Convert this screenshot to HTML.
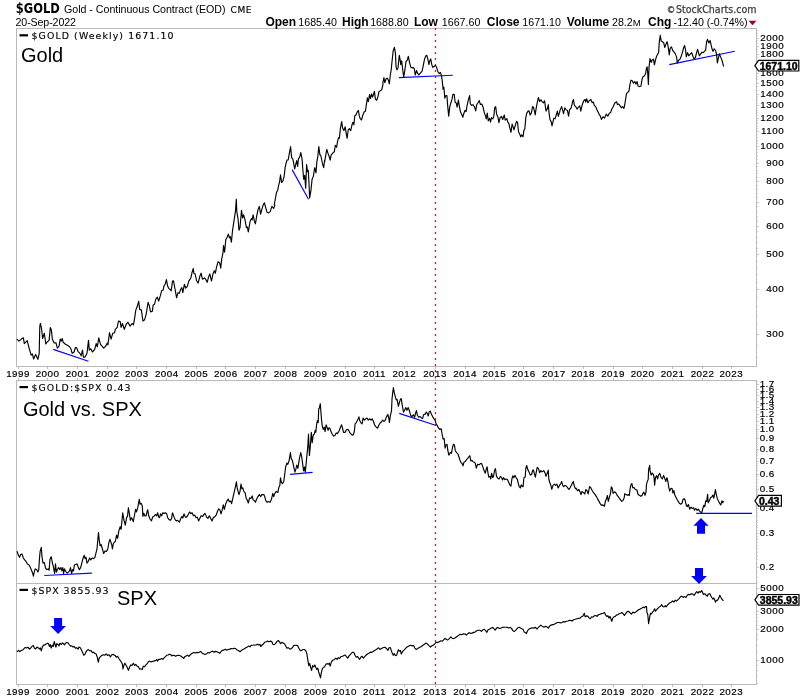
<!DOCTYPE html>
<html><head><meta charset="utf-8"><title>$GOLD</title>
<style>
html,body{margin:0;padding:0;background:#fff}
svg{display:block;will-change:transform}
.a{font-family:"Liberation Sans",Arial,sans-serif}
.v{font-family:"DejaVu Sans",Verdana,sans-serif}
.s{fill:none;stroke:#000;stroke-width:1.15;stroke-linejoin:round;stroke-linecap:round}
.bl{stroke:#0000ff;stroke-width:1.15;fill:none}
</style></head><body>
<svg width="800" height="700" viewBox="0 0 800 700">
<rect width="800" height="700" fill="#fff"/>
<g fill="none" stroke="#bababa" stroke-width="1" shape-rendering="crispEdges">
<rect x="16.5" y="28.5" width="740.0" height="338.0"/>
<rect x="16.5" y="380.5" width="740.0" height="304.0"/>
<line x1="16.5" x2="756.5" y1="583.5" y2="583.5"/>
</g>
<g stroke="#bababa" stroke-width="1" shape-rendering="crispEdges">
<line x1="18.5" x2="18.5" y1="366.5" y2="369.0"/><line x1="18.5" x2="18.5" y1="378.0" y2="380.5"/><line x1="47.5" x2="47.5" y1="366.5" y2="369.0"/><line x1="47.5" x2="47.5" y1="378.0" y2="380.5"/><line x1="77.5" x2="77.5" y1="366.5" y2="369.0"/><line x1="77.5" x2="77.5" y1="378.0" y2="380.5"/><line x1="107.5" x2="107.5" y1="366.5" y2="369.0"/><line x1="107.5" x2="107.5" y1="378.0" y2="380.5"/><line x1="136.5" x2="136.5" y1="366.5" y2="369.0"/><line x1="136.5" x2="136.5" y1="378.0" y2="380.5"/><line x1="166.5" x2="166.5" y1="366.5" y2="369.0"/><line x1="166.5" x2="166.5" y1="378.0" y2="380.5"/><line x1="196.5" x2="196.5" y1="366.5" y2="369.0"/><line x1="196.5" x2="196.5" y1="378.0" y2="380.5"/><line x1="225.5" x2="225.5" y1="366.5" y2="369.0"/><line x1="225.5" x2="225.5" y1="378.0" y2="380.5"/><line x1="255.5" x2="255.5" y1="366.5" y2="369.0"/><line x1="255.5" x2="255.5" y1="378.0" y2="380.5"/><line x1="285.5" x2="285.5" y1="366.5" y2="369.0"/><line x1="285.5" x2="285.5" y1="378.0" y2="380.5"/><line x1="315.5" x2="315.5" y1="366.5" y2="369.0"/><line x1="315.5" x2="315.5" y1="378.0" y2="380.5"/><line x1="345.5" x2="345.5" y1="366.5" y2="369.0"/><line x1="345.5" x2="345.5" y1="378.0" y2="380.5"/><line x1="374.5" x2="374.5" y1="366.5" y2="369.0"/><line x1="374.5" x2="374.5" y1="378.0" y2="380.5"/><line x1="404.5" x2="404.5" y1="366.5" y2="369.0"/><line x1="404.5" x2="404.5" y1="378.0" y2="380.5"/><line x1="435.5" x2="435.5" y1="366.5" y2="369.0"/><line x1="435.5" x2="435.5" y1="378.0" y2="380.5"/><line x1="465.5" x2="465.5" y1="366.5" y2="369.0"/><line x1="465.5" x2="465.5" y1="378.0" y2="380.5"/><line x1="494.5" x2="494.5" y1="366.5" y2="369.0"/><line x1="494.5" x2="494.5" y1="378.0" y2="380.5"/><line x1="523.5" x2="523.5" y1="366.5" y2="369.0"/><line x1="523.5" x2="523.5" y1="378.0" y2="380.5"/><line x1="553.5" x2="553.5" y1="366.5" y2="369.0"/><line x1="553.5" x2="553.5" y1="378.0" y2="380.5"/><line x1="583.5" x2="583.5" y1="366.5" y2="369.0"/><line x1="583.5" x2="583.5" y1="378.0" y2="380.5"/><line x1="613.5" x2="613.5" y1="366.5" y2="369.0"/><line x1="613.5" x2="613.5" y1="378.0" y2="380.5"/><line x1="642.5" x2="642.5" y1="366.5" y2="369.0"/><line x1="642.5" x2="642.5" y1="378.0" y2="380.5"/><line x1="672.5" x2="672.5" y1="366.5" y2="369.0"/><line x1="672.5" x2="672.5" y1="378.0" y2="380.5"/><line x1="702.5" x2="702.5" y1="366.5" y2="369.0"/><line x1="702.5" x2="702.5" y1="378.0" y2="380.5"/><line x1="731.5" x2="731.5" y1="366.5" y2="369.0"/><line x1="731.5" x2="731.5" y1="378.0" y2="380.5"/>
</g>
<g class="a" font-size="9.8" letter-spacing="0.45" text-anchor="middle" fill="#000" stroke="#000" stroke-width="0.2">
<text x="18" y="377">1999</text><text x="47.5" y="377">2000</text><text x="77.5" y="377">2001</text><text x="107.5" y="377">2002</text><text x="136.75" y="377">2003</text><text x="166.75" y="377">2004</text><text x="196.25" y="377">2005</text><text x="225.75" y="377">2006</text><text x="255.5" y="377">2007</text><text x="285.5" y="377">2008</text><text x="315.5" y="377">2009</text><text x="345" y="377">2010</text><text x="374.5" y="377">2011</text><text x="404.25" y="377">2012</text><text x="435" y="377">2013</text><text x="465" y="377">2014</text><text x="494.25" y="377">2015</text><text x="523.75" y="377">2016</text><text x="553.75" y="377">2017</text><text x="583" y="377">2018</text><text x="613" y="377">2019</text><text x="642.5" y="377">2020</text><text x="672.5" y="377">2021</text><text x="702.5" y="377">2022</text><text x="731.25" y="377">2023</text>
</g>
<g stroke="#bababa" stroke-width="1" shape-rendering="crispEdges">
<line x1="18.5" x2="18.5" y1="684.5" y2="687.0"/><line x1="47.5" x2="47.5" y1="684.5" y2="687.0"/><line x1="77.5" x2="77.5" y1="684.5" y2="687.0"/><line x1="107.5" x2="107.5" y1="684.5" y2="687.0"/><line x1="136.5" x2="136.5" y1="684.5" y2="687.0"/><line x1="166.5" x2="166.5" y1="684.5" y2="687.0"/><line x1="196.5" x2="196.5" y1="684.5" y2="687.0"/><line x1="225.5" x2="225.5" y1="684.5" y2="687.0"/><line x1="255.5" x2="255.5" y1="684.5" y2="687.0"/><line x1="285.5" x2="285.5" y1="684.5" y2="687.0"/><line x1="315.5" x2="315.5" y1="684.5" y2="687.0"/><line x1="345.5" x2="345.5" y1="684.5" y2="687.0"/><line x1="374.5" x2="374.5" y1="684.5" y2="687.0"/><line x1="404.5" x2="404.5" y1="684.5" y2="687.0"/><line x1="435.5" x2="435.5" y1="684.5" y2="687.0"/><line x1="465.5" x2="465.5" y1="684.5" y2="687.0"/><line x1="494.5" x2="494.5" y1="684.5" y2="687.0"/><line x1="523.5" x2="523.5" y1="684.5" y2="687.0"/><line x1="553.5" x2="553.5" y1="684.5" y2="687.0"/><line x1="583.5" x2="583.5" y1="684.5" y2="687.0"/><line x1="613.5" x2="613.5" y1="684.5" y2="687.0"/><line x1="642.5" x2="642.5" y1="684.5" y2="687.0"/><line x1="672.5" x2="672.5" y1="684.5" y2="687.0"/><line x1="702.5" x2="702.5" y1="684.5" y2="687.0"/><line x1="731.5" x2="731.5" y1="684.5" y2="687.0"/>
</g>
<g class="a" font-size="9.8" letter-spacing="0.45" text-anchor="middle" fill="#000" stroke="#000" stroke-width="0.2">
<text x="18" y="694.5">1999</text><text x="47.5" y="694.5">2000</text><text x="77.5" y="694.5">2001</text><text x="107.5" y="694.5">2002</text><text x="136.75" y="694.5">2003</text><text x="166.75" y="694.5">2004</text><text x="196.25" y="694.5">2005</text><text x="225.75" y="694.5">2006</text><text x="255.5" y="694.5">2007</text><text x="285.5" y="694.5">2008</text><text x="315.5" y="694.5">2009</text><text x="345" y="694.5">2010</text><text x="374.5" y="694.5">2011</text><text x="404.25" y="694.5">2012</text><text x="435" y="694.5">2013</text><text x="465" y="694.5">2014</text><text x="494.25" y="694.5">2015</text><text x="523.75" y="694.5">2016</text><text x="553.75" y="694.5">2017</text><text x="583" y="694.5">2018</text><text x="613" y="694.5">2019</text><text x="642.5" y="694.5">2020</text><text x="672.5" y="694.5">2021</text><text x="702.5" y="694.5">2022</text><text x="731.25" y="694.5">2023</text>
</g>
<g stroke="#d2d2d2" stroke-width="1" shape-rendering="crispEdges">
<line x1="757.0" x2="758.0" y1="357.5" y2="357.5"/><line x1="757.0" x2="758.0" y1="345.5" y2="345.5"/><line x1="757.0" x2="758.0" y1="334.5" y2="334.5"/><line x1="757.0" x2="758.0" y1="324.5" y2="324.5"/><line x1="757.0" x2="758.0" y1="315.5" y2="315.5"/><line x1="757.0" x2="758.0" y1="306.5" y2="306.5"/><line x1="757.0" x2="758.0" y1="297.5" y2="297.5"/><line x1="757.0" x2="758.0" y1="289.5" y2="289.5"/><line x1="757.0" x2="758.0" y1="282.5" y2="282.5"/><line x1="757.0" x2="758.0" y1="274.5" y2="274.5"/><line x1="757.0" x2="758.0" y1="267.5" y2="267.5"/><line x1="757.0" x2="758.0" y1="261.5" y2="261.5"/><line x1="757.0" x2="758.0" y1="254.5" y2="254.5"/><line x1="757.0" x2="758.0" y1="248.5" y2="248.5"/><line x1="757.0" x2="758.0" y1="242.5" y2="242.5"/><line x1="757.0" x2="758.0" y1="237.5" y2="237.5"/><line x1="757.0" x2="758.0" y1="231.5" y2="231.5"/><line x1="757.0" x2="758.0" y1="226.5" y2="226.5"/><line x1="757.0" x2="758.0" y1="221.5" y2="221.5"/><line x1="757.0" x2="758.0" y1="216.5" y2="216.5"/><line x1="757.0" x2="758.0" y1="211.5" y2="211.5"/><line x1="757.0" x2="758.0" y1="206.5" y2="206.5"/><line x1="757.0" x2="758.0" y1="202.5" y2="202.5"/><line x1="757.0" x2="758.0" y1="197.5" y2="197.5"/><line x1="757.0" x2="758.0" y1="193.5" y2="193.5"/><line x1="757.0" x2="758.0" y1="189.5" y2="189.5"/><line x1="757.0" x2="758.0" y1="185.5" y2="185.5"/><line x1="757.0" x2="758.0" y1="181.5" y2="181.5"/><line x1="757.0" x2="758.0" y1="177.5" y2="177.5"/><line x1="757.0" x2="758.0" y1="173.5" y2="173.5"/><line x1="757.0" x2="758.0" y1="170.5" y2="170.5"/><line x1="757.0" x2="758.0" y1="166.5" y2="166.5"/><line x1="757.0" x2="758.0" y1="163.5" y2="163.5"/><line x1="757.0" x2="758.0" y1="159.5" y2="159.5"/><line x1="757.0" x2="758.0" y1="156.5" y2="156.5"/><line x1="757.0" x2="758.0" y1="152.5" y2="152.5"/><line x1="757.0" x2="758.0" y1="149.5" y2="149.5"/><line x1="757.0" x2="758.0" y1="146.5" y2="146.5"/><line x1="757.0" x2="758.0" y1="143.5" y2="143.5"/><line x1="757.0" x2="758.0" y1="140.5" y2="140.5"/><line x1="757.0" x2="758.0" y1="137.5" y2="137.5"/><line x1="757.0" x2="758.0" y1="134.5" y2="134.5"/><line x1="757.0" x2="758.0" y1="131.5" y2="131.5"/><line x1="757.0" x2="758.0" y1="128.5" y2="128.5"/><line x1="757.0" x2="758.0" y1="126.5" y2="126.5"/><line x1="757.0" x2="758.0" y1="123.5" y2="123.5"/><line x1="757.0" x2="758.0" y1="120.5" y2="120.5"/><line x1="757.0" x2="758.0" y1="118.5" y2="118.5"/><line x1="757.0" x2="758.0" y1="115.5" y2="115.5"/><line x1="757.0" x2="758.0" y1="112.5" y2="112.5"/><line x1="757.0" x2="758.0" y1="110.5" y2="110.5"/><line x1="757.0" x2="758.0" y1="108.5" y2="108.5"/><line x1="757.0" x2="758.0" y1="105.5" y2="105.5"/><line x1="757.0" x2="758.0" y1="103.5" y2="103.5"/><line x1="757.0" x2="758.0" y1="100.5" y2="100.5"/><line x1="757.0" x2="758.0" y1="98.5" y2="98.5"/><line x1="757.0" x2="758.0" y1="96.5" y2="96.5"/><line x1="757.0" x2="758.0" y1="94.5" y2="94.5"/><line x1="757.0" x2="758.0" y1="94.5" y2="94.5"/><line x1="757.0" x2="758.0" y1="90.5" y2="90.5"/><line x1="757.0" x2="758.0" y1="86.5" y2="86.5"/><line x1="757.0" x2="758.0" y1="83.5" y2="83.5"/><line x1="757.0" x2="758.0" y1="79.5" y2="79.5"/><line x1="757.0" x2="758.0" y1="76.5" y2="76.5"/><line x1="757.0" x2="758.0" y1="73.5" y2="73.5"/><line x1="757.0" x2="758.0" y1="69.5" y2="69.5"/><line x1="757.0" x2="758.0" y1="66.5" y2="66.5"/><line x1="757.0" x2="758.0" y1="63.5" y2="63.5"/><line x1="757.0" x2="758.0" y1="60.5" y2="60.5"/><line x1="757.0" x2="758.0" y1="57.5" y2="57.5"/><line x1="757.0" x2="758.0" y1="54.5" y2="54.5"/><line x1="757.0" x2="758.0" y1="51.5" y2="51.5"/><line x1="757.0" x2="758.0" y1="49.5" y2="49.5"/><line x1="757.0" x2="758.0" y1="46.5" y2="46.5"/><line x1="757.0" x2="758.0" y1="43.5" y2="43.5"/><line x1="757.0" x2="758.0" y1="40.5" y2="40.5"/><line x1="757.0" x2="758.0" y1="38.5" y2="38.5"/><line x1="757.0" x2="758.0" y1="35.5" y2="35.5"/><line x1="757.0" x2="758.0" y1="33.5" y2="33.5"/><line x1="757.0" x2="758.0" y1="30.5" y2="30.5"/>
</g>
<g stroke="#c6c6c6" stroke-width="1" shape-rendering="crispEdges">
<line x1="757.0" x2="759.0" y1="38.5" y2="38.5"/><line x1="757.0" x2="759.0" y1="46.5" y2="46.5"/><line x1="757.0" x2="759.0" y1="54.5" y2="54.5"/><line x1="757.0" x2="759.0" y1="63.5" y2="63.5"/><line x1="757.0" x2="759.0" y1="73.5" y2="73.5"/><line x1="757.0" x2="759.0" y1="83.5" y2="83.5"/><line x1="757.0" x2="759.0" y1="94.5" y2="94.5"/><line x1="757.0" x2="759.0" y1="105.5" y2="105.5"/><line x1="757.0" x2="759.0" y1="118.5" y2="118.5"/><line x1="757.0" x2="759.0" y1="131.5" y2="131.5"/><line x1="757.0" x2="759.0" y1="146.5" y2="146.5"/><line x1="757.0" x2="759.0" y1="163.5" y2="163.5"/><line x1="757.0" x2="759.0" y1="181.5" y2="181.5"/><line x1="757.0" x2="759.0" y1="202.5" y2="202.5"/><line x1="757.0" x2="759.0" y1="226.5" y2="226.5"/><line x1="757.0" x2="759.0" y1="254.5" y2="254.5"/><line x1="757.0" x2="759.0" y1="289.5" y2="289.5"/><line x1="757.0" x2="759.0" y1="334.5" y2="334.5"/>
</g>
<g class="a" font-size="9.8" letter-spacing="0.5" text-anchor="end" fill="#000" stroke="#000" stroke-width="0.2">
<text x="784.1" y="41">2000</text><text x="784.1" y="49">1900</text><text x="784.1" y="57">1800</text><text x="784.1" y="66">1700</text><text x="784.1" y="76">1600</text><text x="784.1" y="86">1500</text><text x="784.1" y="97">1400</text><text x="784.1" y="108">1300</text><text x="784.1" y="121">1200</text><text x="784.1" y="134">1100</text><text x="784.1" y="149">1000</text><text x="784.1" y="166">900</text><text x="784.1" y="184">800</text><text x="784.1" y="205">700</text><text x="784.1" y="229">600</text><text x="784.1" y="257">500</text><text x="784.1" y="292">400</text><text x="784.1" y="337">300</text>
</g>
<g stroke="#d2d2d2" stroke-width="1" shape-rendering="crispEdges">
<line x1="757.0" x2="758.0" y1="582.5" y2="582.5"/><line x1="757.0" x2="758.0" y1="577.5" y2="577.5"/><line x1="757.0" x2="758.0" y1="572.5" y2="572.5"/><line x1="757.0" x2="758.0" y1="567.5" y2="567.5"/><line x1="757.0" x2="758.0" y1="563.5" y2="563.5"/><line x1="757.0" x2="758.0" y1="559.5" y2="559.5"/><line x1="757.0" x2="758.0" y1="556.5" y2="556.5"/><line x1="757.0" x2="758.0" y1="552.5" y2="552.5"/><line x1="757.0" x2="758.0" y1="548.5" y2="548.5"/><line x1="757.0" x2="758.0" y1="545.5" y2="545.5"/><line x1="757.0" x2="758.0" y1="542.5" y2="542.5"/><line x1="757.0" x2="758.0" y1="539.5" y2="539.5"/><line x1="757.0" x2="758.0" y1="536.5" y2="536.5"/><line x1="757.0" x2="758.0" y1="533.5" y2="533.5"/><line x1="757.0" x2="758.0" y1="530.5" y2="530.5"/><line x1="757.0" x2="758.0" y1="527.5" y2="527.5"/><line x1="757.0" x2="758.0" y1="525.5" y2="525.5"/><line x1="757.0" x2="758.0" y1="522.5" y2="522.5"/><line x1="757.0" x2="758.0" y1="520.5" y2="520.5"/><line x1="757.0" x2="758.0" y1="517.5" y2="517.5"/><line x1="757.0" x2="758.0" y1="515.5" y2="515.5"/><line x1="757.0" x2="758.0" y1="512.5" y2="512.5"/><line x1="757.0" x2="758.0" y1="510.5" y2="510.5"/><line x1="757.0" x2="758.0" y1="508.5" y2="508.5"/><line x1="757.0" x2="758.0" y1="506.5" y2="506.5"/><line x1="757.0" x2="758.0" y1="504.5" y2="504.5"/><line x1="757.0" x2="758.0" y1="502.5" y2="502.5"/><line x1="757.0" x2="758.0" y1="500.5" y2="500.5"/><line x1="757.0" x2="758.0" y1="498.5" y2="498.5"/><line x1="757.0" x2="758.0" y1="496.5" y2="496.5"/><line x1="757.0" x2="758.0" y1="494.5" y2="494.5"/><line x1="757.0" x2="758.0" y1="492.5" y2="492.5"/><line x1="757.0" x2="758.0" y1="491.5" y2="491.5"/><line x1="757.0" x2="758.0" y1="489.5" y2="489.5"/><line x1="757.0" x2="758.0" y1="489.5" y2="489.5"/><line x1="757.0" x2="758.0" y1="486.5" y2="486.5"/><line x1="757.0" x2="758.0" y1="482.5" y2="482.5"/><line x1="757.0" x2="758.0" y1="479.5" y2="479.5"/><line x1="757.0" x2="758.0" y1="476.5" y2="476.5"/><line x1="757.0" x2="758.0" y1="474.5" y2="474.5"/><line x1="757.0" x2="758.0" y1="470.5" y2="470.5"/><line x1="757.0" x2="758.0" y1="468.5" y2="468.5"/><line x1="757.0" x2="758.0" y1="465.5" y2="465.5"/><line x1="757.0" x2="758.0" y1="463.5" y2="463.5"/><line x1="757.0" x2="758.0" y1="461.5" y2="461.5"/><line x1="757.0" x2="758.0" y1="458.5" y2="458.5"/><line x1="757.0" x2="758.0" y1="455.5" y2="455.5"/><line x1="757.0" x2="758.0" y1="453.5" y2="453.5"/><line x1="757.0" x2="758.0" y1="451.5" y2="451.5"/><line x1="757.0" x2="758.0" y1="449.5" y2="449.5"/><line x1="757.0" x2="758.0" y1="446.5" y2="446.5"/><line x1="757.0" x2="758.0" y1="444.5" y2="444.5"/><line x1="757.0" x2="758.0" y1="442.5" y2="442.5"/><line x1="757.0" x2="758.0" y1="440.5" y2="440.5"/><line x1="757.0" x2="758.0" y1="438.5" y2="438.5"/><line x1="757.0" x2="758.0" y1="437.5" y2="437.5"/><line x1="757.0" x2="758.0" y1="435.5" y2="435.5"/><line x1="757.0" x2="758.0" y1="433.5" y2="433.5"/><line x1="757.0" x2="758.0" y1="431.5" y2="431.5"/><line x1="757.0" x2="758.0" y1="429.5" y2="429.5"/><line x1="757.0" x2="758.0" y1="429.5" y2="429.5"/><line x1="757.0" x2="758.0" y1="425.5" y2="425.5"/><line x1="757.0" x2="758.0" y1="421.5" y2="421.5"/><line x1="757.0" x2="758.0" y1="417.5" y2="417.5"/><line x1="757.0" x2="758.0" y1="414.5" y2="414.5"/><line x1="757.0" x2="758.0" y1="410.5" y2="410.5"/><line x1="757.0" x2="758.0" y1="407.5" y2="407.5"/><line x1="757.0" x2="758.0" y1="404.5" y2="404.5"/><line x1="757.0" x2="758.0" y1="401.5" y2="401.5"/><line x1="757.0" x2="758.0" y1="398.5" y2="398.5"/><line x1="757.0" x2="758.0" y1="395.5" y2="395.5"/><line x1="757.0" x2="758.0" y1="392.5" y2="392.5"/><line x1="757.0" x2="758.0" y1="389.5" y2="389.5"/><line x1="757.0" x2="758.0" y1="386.5" y2="386.5"/><line x1="757.0" x2="758.0" y1="384.5" y2="384.5"/><line x1="757.0" x2="758.0" y1="381.5" y2="381.5"/>
</g>
<g stroke="#c6c6c6" stroke-width="1" shape-rendering="crispEdges">
<line x1="757.0" x2="759.0" y1="384.5" y2="384.5"/><line x1="757.0" x2="759.0" y1="389.5" y2="389.5"/><line x1="757.0" x2="759.0" y1="395.5" y2="395.5"/><line x1="757.0" x2="759.0" y1="401.5" y2="401.5"/><line x1="757.0" x2="759.0" y1="407.5" y2="407.5"/><line x1="757.0" x2="759.0" y1="414.5" y2="414.5"/><line x1="757.0" x2="759.0" y1="421.5" y2="421.5"/><line x1="757.0" x2="759.0" y1="429.5" y2="429.5"/><line x1="757.0" x2="759.0" y1="438.5" y2="438.5"/><line x1="757.0" x2="759.0" y1="449.5" y2="449.5"/><line x1="757.0" x2="759.0" y1="461.5" y2="461.5"/><line x1="757.0" x2="759.0" y1="474.5" y2="474.5"/><line x1="757.0" x2="759.0" y1="489.5" y2="489.5"/><line x1="757.0" x2="759.0" y1="508.5" y2="508.5"/><line x1="757.0" x2="759.0" y1="533.5" y2="533.5"/><line x1="757.0" x2="759.0" y1="567.5" y2="567.5"/>
</g>
<g class="a" font-size="9.8" letter-spacing="0.5" text-anchor="end" fill="#000" stroke="#000" stroke-width="0.2">
<text x="774.8" y="387">1.7</text><text x="774.8" y="392">1.6</text><text x="774.8" y="398">1.5</text><text x="774.8" y="404">1.4</text><text x="774.8" y="410">1.3</text><text x="774.8" y="417">1.2</text><text x="774.8" y="424">1.1</text><text x="774.8" y="432">1.0</text><text x="774.8" y="441">0.9</text><text x="774.8" y="452">0.8</text><text x="774.8" y="464">0.7</text><text x="774.8" y="477">0.6</text><text x="774.8" y="492">0.5</text><text x="774.8" y="511">0.4</text><text x="774.8" y="536">0.3</text><text x="774.8" y="570">0.2</text>
</g>
<g stroke="#d2d2d2" stroke-width="1" shape-rendering="crispEdges">
<line x1="757.0" x2="758.0" y1="683.5" y2="683.5"/><line x1="757.0" x2="758.0" y1="676.5" y2="676.5"/><line x1="757.0" x2="758.0" y1="670.5" y2="670.5"/><line x1="757.0" x2="758.0" y1="665.5" y2="665.5"/><line x1="757.0" x2="758.0" y1="660.5" y2="660.5"/><line x1="757.0" x2="758.0" y1="660.5" y2="660.5"/><line x1="757.0" x2="758.0" y1="652.5" y2="652.5"/><line x1="757.0" x2="758.0" y1="645.5" y2="645.5"/><line x1="757.0" x2="758.0" y1="639.5" y2="639.5"/><line x1="757.0" x2="758.0" y1="634.5" y2="634.5"/><line x1="757.0" x2="758.0" y1="629.5" y2="629.5"/><line x1="757.0" x2="758.0" y1="625.5" y2="625.5"/><line x1="757.0" x2="758.0" y1="621.5" y2="621.5"/><line x1="757.0" x2="758.0" y1="617.5" y2="617.5"/><line x1="757.0" x2="758.0" y1="614.5" y2="614.5"/><line x1="757.0" x2="758.0" y1="611.5" y2="611.5"/><line x1="757.0" x2="758.0" y1="604.5" y2="604.5"/><line x1="757.0" x2="758.0" y1="598.5" y2="598.5"/><line x1="757.0" x2="758.0" y1="593.5" y2="593.5"/><line x1="757.0" x2="758.0" y1="588.5" y2="588.5"/>
</g>
<g stroke="#c6c6c6" stroke-width="1" shape-rendering="crispEdges">
<line x1="757.0" x2="759.0" y1="588.5" y2="588.5"/><line x1="757.0" x2="759.0" y1="611.5" y2="611.5"/><line x1="757.0" x2="759.0" y1="629.5" y2="629.5"/><line x1="757.0" x2="759.0" y1="660.5" y2="660.5"/>
</g>
<g class="a" font-size="9.8" letter-spacing="0.5" text-anchor="end" fill="#000" stroke="#000" stroke-width="0.2">
<text x="784.1" y="591">5000</text><text x="784.1" y="614">3000</text><text x="784.1" y="632">2000</text><text x="784.1" y="663">1000</text>
</g>
<line x1="435.5" x2="435.5" y1="28" y2="684.5" stroke="#ff0000" stroke-width="1.15" stroke-dasharray="2 4" />
<line class="bl" x1="53.2" y1="349.4" x2="88.5" y2="361.2"/>
<line class="bl" x1="292.1" y1="169.6" x2="308.5" y2="199.2"/>
<line class="bl" x1="398.9" y1="77.6" x2="452.9" y2="75.2"/>
<line class="bl" x1="669.3" y1="64.6" x2="734.9" y2="51.3"/>
<line class="bl" x1="44.3" y1="575.5" x2="91.9" y2="573.1"/>
<line class="bl" x1="290.1" y1="474.4" x2="312.6" y2="472.4"/>
<line class="bl" x1="399.2" y1="413.4" x2="435.4" y2="425.2"/>
<line class="bl" x1="696.2" y1="513.4" x2="752" y2="513.4"/>
<polyline class="s" points="17.2,339.4 18.9,341.1 21.4,339.1 23.4,337.8 24.3,343.6 27.2,340.7 29.1,348.1 31.1,355.2 32.4,353.9 33.6,359.0 35.6,354.6 37.9,359.3 39.2,353.3 39.8,326.3 40.4,323.4 41.6,328.8 42.6,338.5 44.3,333.3 45.8,344.0 47.4,341.7 49.1,340.4 50.3,327.6 51.4,330.1 52.3,339.1 54.2,343.0 55.9,342.7 57.4,348.1 59.1,346.2 60.2,339.1 61.3,341.1 62.2,338.5 63.2,342.3 65.1,344.0 67.7,345.6 69.6,346.8 70.9,348.8 72.2,353.3 74.1,352.0 75.4,347.5 76.7,347.9 78.0,351.3 79.9,353.3 81.2,355.8 82.5,350.1 83.4,357.1 85.1,357.1 87.0,353.3 88.5,340.4 89.3,350.1 90.8,348.8 92.4,352.0 94.7,349.4 96.2,343.6 97.3,346.8 98.8,337.8 100.5,344.3 103.7,348.1 105.6,346.2 107.3,343.0 107.9,344.9 109.5,332.7 111.1,339.1 112.7,333.3 114.6,332.7 115.3,329.3 117.2,327.4 118.5,321.0 120.2,321.6 121.1,327.4 122.4,323.5 124.3,329.3 126.2,324.2 127.9,322.3 130.1,326.1 132.0,323.5 133.5,324.8 134.8,317.1 135.8,310.1 137.1,306.8 138.7,301.4 139.7,309.4 141.4,310.1 142.9,321.0 144.6,319.7 146.1,314.6 148.1,302.3 149.3,305.6 150.6,312.0 152.3,311.3 153.2,304.9 154.5,304.3 155.8,299.1 157.4,297.2 158.7,301.1 160.3,295.9 161.6,290.8 163.1,290.1 164.1,285.6 165.4,283.7 166.4,279.6 167.7,286.3 169.0,288.8 170.3,289.5 171.2,290.8 172.5,281.1 173.5,280.9 175.1,289.5 176.6,297.8 178.0,292.7 179.3,293.3 180.6,289.5 181.9,287.6 182.8,292.7 184.4,284.3 185.7,288.2 187.3,286.3 188.8,281.1 190.9,277.9 192.1,272.1 193.3,268.5 193.9,273.4 195.2,274.1 196.5,280.5 198.2,283.1 199.9,276.0 201.1,273.2 202.4,279.2 204.6,277.9 205.9,279.7 207.2,282.3 208.5,277.1 209.8,273.9 211.5,281.0 213.0,273.9 214.3,270.7 215.3,273.3 216.6,266.8 218.1,261.7 219.7,263.0 220.7,268.1 221.7,259.1 223.0,252.7 223.5,245.6 224.6,252.1 225.8,239.8 227.1,237.3 228.4,234.1 229.4,237.9 230.3,236.6 231.4,242.2 232.5,230.8 234.2,219.3 235.5,210.9 236.3,199.2 236.8,211.6 238.1,219.3 239.0,230.2 240.0,227.6 241.5,210.3 242.6,218.0 243.6,214.8 244.9,219.3 246.4,227.6 247.4,227.0 248.3,231.9 250.0,221.9 251.3,218.6 252.2,219.9 253.1,214.8 254.4,221.2 255.4,223.8 256.7,216.1 258.0,209.6 259.3,206.4 260.6,214.1 261.8,209.6 263.1,205.1 264.4,202.8 265.7,207.7 267.0,212.2 268.5,212.9 270.2,211.6 271.9,206.4 273.7,208.4 274.9,205.1 274.2,205.0 275.4,198.5 276.4,192.8 277.7,190.2 278.7,185.1 279.6,181.8 280.5,174.8 281.6,182.5 282.8,181.2 284.1,176.7 285.2,167.1 286.1,163.2 287.0,160.0 288.2,160.0 289.3,153.6 290.6,146.5 291.6,157.4 292.9,159.3 293.8,163.8 294.7,169.0 295.7,164.5 296.7,160.6 297.6,166.4 298.5,158.7 299.6,157.4 300.8,152.5 302.1,159.3 302.8,169.0 303.7,179.3 304.7,175.4 305.7,188.3 306.6,164.5 307.5,171.6 308.3,170.3 309.2,187.0 309.6,197.9 310.9,190.8 312.1,179.3 313.4,176.1 314.7,167.7 316.0,172.8 316.9,161.3 317.8,156.8 318.8,146.5 319.9,154.8 320.8,155.5 321.7,160.0 322.7,164.5 323.7,167.7 324.6,160.0 324.6,162.1 325.9,154.4 326.8,149.3 327.9,153.1 329.1,156.3 330.2,160.2 331.1,155.1 332.7,153.1 334.3,151.8 335.3,145.4 336.6,147.3 337.5,141.6 338.5,137.7 339.4,138.3 340.4,128.1 341.7,121.6 342.6,128.1 343.9,130.6 345.2,126.8 346.1,132.6 347.1,138.3 348.2,130.0 349.4,128.7 350.7,130.6 352.0,124.8 352.9,122.3 353.9,124.8 354.8,115.8 356.1,114.8 357.2,112.0 358.4,110.4 359.3,115.8 360.2,118.7 361.5,120.0 362.8,115.2 364.1,112.0 365.4,111.3 366.4,104.3 367.4,97.9 368.3,101.7 369.6,94.6 370.5,98.5 371.6,94.0 372.6,97.2 373.5,94.3 374.4,91.4 375.4,99.1 376.7,100.2 378.0,96.6 379.0,91.4 380.3,90.8 381.6,90.1 382.9,85.0 382.9,82.7 383.9,77.6 384.8,82.7 386.1,78.8 387.4,78.2 388.6,80.8 389.3,84.0 390.3,75.0 391.2,69.8 392.1,60.8 393.1,51.2 394.4,47.4 395.4,53.1 396.1,67.3 397.0,69.8 398.0,67.9 399.3,55.4 400.2,60.2 400.8,64.7 401.7,60.8 402.8,70.5 403.7,76.9 404.7,71.1 406.0,61.5 407.3,60.2 408.3,56.3 409.6,62.8 410.9,67.3 412.2,67.9 413.1,67.3 414.3,68.6 415.2,75.0 416.5,70.5 417.8,73.7 418.8,75.0 420.4,73.1 422.1,71.1 423.3,65.3 424.6,58.9 425.9,55.7 426.8,55.4 427.8,58.9 428.9,64.7 429.8,60.8 430.7,58.9 431.7,64.1 432.7,67.3 434.0,66.6 435.3,65.3 436.6,67.3 437.9,71.8 439.2,73.7 440.4,72.4 441.3,75.0 442.2,80.1 443.0,89.1 443.9,87.2 444.8,98.1 445.8,95.6 446.9,95.6 447.8,107.1 448.7,116.1 449.7,107.1 450.7,103.3 452.0,99.4 452.9,94.3 454.2,94.3 455.1,102.0 456.4,103.3 457.1,107.1 458.4,100.1 459.3,105.8 460.6,112.3 461.9,114.8 462.8,117.4 463.8,113.5 465.1,110.3 466.1,111.6 467.0,105.8 468.3,100.1 469.6,95.6 470.3,103.7 471.6,105.3 472.9,104.7 474.4,106.6 475.7,110.9 476.7,104.7 478.0,102.8 479.3,100.6 480.3,104.4 481.9,104.1 483.1,107.3 484.4,113.1 485.4,115.6 486.3,118.8 487.2,113.1 488.3,120.8 489.6,118.2 490.5,122.1 491.5,117.6 492.8,118.8 493.7,116.9 494.7,107.9 495.7,106.6 496.6,114.3 497.9,116.9 498.9,122.7 500.1,117.6 501.4,116.3 502.7,119.5 504.3,115.0 505.2,120.1 506.9,118.6 507.8,122.1 508.8,123.3 510.1,129.1 511.0,132.3 512.1,124.0 513.0,126.6 514.0,129.8 515.3,125.3 516.6,121.4 517.6,122.7 518.5,131.7 519.8,134.3 520.7,136.8 521.7,134.9 523.0,136.8 523.9,130.4 524.9,128.5 525.8,117.6 526.8,113.1 528.1,111.1 529.0,110.9 530.1,115.0 531.3,113.1 532.6,106.6 533.5,107.3 534.6,111.8 535.2,115.0 536.1,108.6 537.1,103.4 538.4,97.6 539.7,101.5 541.0,99.8 542.3,101.9 543.5,102.8 544.6,100.8 545.5,107.3 546.1,111.1 547.4,108.6 548.3,104.7 549.1,113.7 550.0,119.5 551.3,122.1 552.0,125.9 552.8,122.7 553.8,118.2 555.1,118.8 556.4,114.3 557.4,111.1 558.3,116.3 559.6,112.4 560.0,110.4 561.6,106.6 562.9,111.1 563.5,113.6 564.8,107.8 566.1,109.8 567.4,110.4 568.6,116.2 569.5,109.8 571.2,107.8 572.5,102.1 573.4,99.5 574.4,105.3 575.7,106.6 577.0,109.1 578.5,107.2 579.8,105.9 580.8,111.1 582.1,105.3 583.7,100.8 585.0,99.5 585.7,102.1 586.6,98.8 587.9,102.7 589.2,100.8 590.9,99.5 592.2,102.7 593.4,102.1 594.3,105.3 595.6,106.6 597.3,110.4 598.8,113.6 600.4,116.2 601.4,119.4 603.0,116.8 604.6,118.1 606.3,114.0 607.8,116.2 609.1,113.6 610.7,112.3 611.7,109.1 613.0,107.2 614.3,104.0 615.3,102.4 616.6,101.8 617.5,104.6 618.8,104.0 620.1,105.9 621.3,107.8 622.6,106.6 623.9,108.5 624.6,105.3 625.6,99.5 626.5,93.7 627.8,92.4 629.0,90.9 629.9,84.7 631.0,80.2 632.3,80.8 633.5,83.2 634.8,81.5 635.9,84.1 637.1,81.5 638.0,86.0 639.3,86.6 641.0,86.0 641.9,80.2 642.8,77.0 644.5,75.7 645.8,73.1 646.2,69.3 647.1,66.8 647.7,72.6 648.4,84.4 649.0,67.4 650.0,58.7 651.3,62.3 652.2,60.0 653.5,59.1 654.4,64.8 655.4,60.3 656.5,56.5 657.7,54.3 658.6,52.6 659.3,41.7 660.3,35.3 661.2,41.1 662.5,41.7 663.8,43.0 664.7,47.5 665.7,44.9 667.0,41.7 668.0,45.6 669.3,54.8 670.2,48.1 671.5,46.9 672.8,50.7 674.1,52.0 675.3,53.9 676.6,57.1 677.3,62.9 678.6,60.3 680.1,59.1 681.4,55.8 682.7,51.3 683.7,47.5 684.6,45.6 685.6,50.1 686.3,56.9 687.6,52.6 688.8,55.8 690.4,53.9 691.7,52.6 693.0,56.5 694.0,58.7 695.3,57.8 696.6,52.6 697.6,49.4 698.5,52.6 699.4,55.8 700.7,53.9 702.0,52.2 703.2,52.6 704.5,51.3 705.6,50.1 706.6,41.7 707.5,39.4 708.8,43.0 710.1,40.4 711.0,44.3 712.0,48.8 713.0,51.3 714.3,48.8 715.6,50.7 716.5,53.9 717.4,62.9 718.4,57.8 719.4,53.9 720.7,57.1 722.0,60.3 722.9,63.6 723.5,66.1"/>
<polyline class="s" points="17.2,551.6 18.2,554.8 19.5,557.3 20.8,554.4 22.1,554.1 23.4,558.0 24.6,559.9 25.9,561.2 27.2,563.8 29.1,565.1 30.4,567.6 31.7,570.8 32.7,573.4 33.4,576.2 34.3,571.5 35.3,568.9 36.6,569.6 37.9,572.1 38.8,569.6 39.4,559.3 40.1,551.6 41.3,547.4 42.0,556.7 43.0,563.1 44.3,562.5 45.6,568.3 46.9,569.6 48.2,568.9 49.1,570.2 50.0,559.3 51.2,556.7 52.3,562.5 53.3,566.3 54.6,573.4 55.5,563.8 56.4,572.1 57.4,569.6 58.7,567.6 59.7,569.6 61.0,567.6 61.9,570.8 62.8,567.6 63.6,573.4 64.5,568.9 65.8,571.5 67.1,573.1 68.3,572.1 69.6,570.8 70.5,567.6 71.6,573.4 72.6,569.6 73.5,570.8 74.4,565.1 75.7,564.4 77.0,563.8 78.2,567.0 79.3,569.6 80.6,567.6 81.8,563.1 83.1,558.0 84.2,555.4 85.1,558.6 86.0,557.3 87.0,563.1 88.3,561.2 89.6,558.0 90.8,559.9 92.1,558.0 93.7,558.6 94.9,557.3 96.0,552.8 97.0,549.0 97.9,538.7 98.5,532.5 99.2,540.0 100.1,545.8 101.1,544.5 102.4,549.0 103.7,553.5 105.0,550.9 106.5,551.6 107.8,549.0 108.8,543.2 109.9,539.3 110.8,541.9 111.7,544.5 112.4,549.0 113.3,543.8 114.6,541.9 115.3,541.5 116.6,535.1 117.6,538.3 118.9,530.6 120.2,526.7 121.1,529.3 122.0,520.3 122.7,512.8 124.0,520.3 125.3,525.2 126.6,517.7 127.5,516.4 128.4,507.7 129.4,513.8 130.4,520.3 131.7,517.7 133.3,521.6 134.6,514.5 135.6,509.3 136.5,511.9 137.8,507.4 138.7,502.3 139.3,499.4 140.0,504.2 141.2,503.3 142.3,506.1 142.9,516.4 143.8,513.2 144.8,515.8 146.1,515.8 147.0,511.9 147.7,509.7 148.7,515.8 150.0,519.0 151.5,520.9 152.6,517.1 153.8,516.4 155.4,514.5 156.7,515.8 157.7,512.8 158.7,517.1 159.6,517.7 160.5,513.8 161.6,515.8 162.8,512.8 164.1,513.6 165.4,512.8 166.7,513.8 167.7,517.7 169.0,519.6 170.6,520.3 171.6,518.3 172.5,512.8 173.8,516.4 175.1,519.6 176.3,520.9 177.6,520.3 179.3,522.2 180.6,519.0 181.9,516.4 182.8,518.0 184.0,513.8 185.3,517.1 186.6,517.1 187.9,515.1 189.6,511.9 190.9,513.6 192.1,512.8 193.4,515.8 194.7,515.1 196.0,517.7 197.3,517.1 198.6,520.9 199.9,518.3 201.1,515.8 202.7,516.4 204.6,513.6 205.3,513.9 206.6,517.1 207.9,518.4 209.4,515.8 210.7,518.4 212.0,521.0 213.3,517.8 214.9,516.5 216.2,515.2 217.5,511.3 218.8,508.8 220.1,510.4 221.0,513.9 222.0,510.7 223.3,504.9 224.3,509.4 225.6,504.3 226.9,501.1 228.2,499.1 229.4,501.7 230.7,501.1 231.6,503.6 232.9,497.8 234.2,492.1 235.5,486.3 236.4,481.8 237.2,488.2 238.1,491.4 239.0,494.6 240.0,491.4 241.0,484.0 241.9,488.8 242.8,487.8 243.8,491.4 245.1,492.7 246.2,498.5 247.4,500.4 248.3,503.0 249.6,497.8 250.9,498.5 252.2,495.9 253.1,499.8 254.4,500.4 255.4,502.3 256.7,499.1 258.0,496.6 259.3,494.6 260.8,496.6 261.8,494.6 263.8,494.6 264.7,496.6 265.7,500.4 267.0,502.3 268.5,501.4 270.2,502.3 271.5,499.1 272.8,493.3 273.7,496.6 274.9,493.3 276.2,491.4 277.9,492.4 278.8,487.6 279.8,485.6 280.5,477.9 281.4,482.4 282.4,483.7 283.7,481.8 284.7,474.7 285.6,467.0 286.9,463.1 287.8,464.4 289.1,460.6 290.4,452.6 291.2,458.6 292.1,459.9 293.0,463.1 294.0,468.3 295.0,472.1 295.9,468.9 296.8,465.1 297.9,468.3 298.9,461.8 299.8,456.7 300.7,452.6 301.7,456.7 302.7,464.4 303.6,470.8 304.5,467.0 305.3,472.1 306.2,463.1 306.9,455.4 307.9,445.1 308.5,434.2 309.4,455.4 310.3,446.4 311.3,432.3 312.2,442.6 313.3,434.8 314.3,434.2 315.2,430.3 315.8,432.3 316.7,423.9 317.4,420.7 318.2,422.6 318.7,409.1 319.4,407.9 320.3,403.7 321.0,413.0 321.6,420.7 322.5,427.1 323.3,429.4 324.2,427.1 325.1,431.6 326.1,424.8 327.2,427.8 328.1,430.3 329.0,427.8 330.0,428.4 331.0,431.6 332.3,434.2 333.6,436.1 334.9,435.5 336.2,432.9 337.4,433.6 339.0,431.0 340.3,427.8 341.6,424.8 342.6,428.4 343.5,432.3 345.2,432.3 346.4,429.7 348.0,429.4 349.0,431.0 349.9,432.9 351.2,434.2 352.1,435.1 353.4,434.6 354.4,431.0 355.1,423.9 356.3,422.6 357.6,420.1 358.9,416.9 359.8,420.7 360.8,422.6 362.1,423.9 363.1,418.1 364.4,420.1 365.7,418.8 367.0,418.1 368.3,420.1 369.6,418.8 371.1,420.1 372.1,418.8 373.4,421.3 374.7,425.2 376.3,427.1 377.5,428.2 378.8,425.2 380.1,423.0 381.4,422.0 382.7,420.1 384.0,421.3 385.0,420.7 385.3,419.8 386.6,416.6 387.9,414.4 388.9,418.6 389.4,422.4 390.4,415.3 391.5,410.8 392.0,399.3 392.7,392.9 393.4,387.5 394.3,392.9 395.3,396.7 396.2,399.9 397.1,399.3 398.4,406.3 399.4,402.5 400.4,399.3 401.3,398.6 402.2,405.1 403.5,412.1 404.8,409.8 405.8,407.6 406.9,410.2 408.2,407.6 409.4,410.8 410.7,415.3 412.0,416.6 413.3,414.7 414.6,417.3 415.5,413.4 416.4,410.6 417.4,415.3 418.7,417.3 420.2,416.6 421.5,417.9 422.6,418.6 423.6,414.7 425.1,414.1 426.4,412.1 427.4,413.7 428.3,416.0 429.2,411.9 430.3,411.1 431.3,414.1 432.6,416.6 433.9,418.6 435.2,420.5 436.1,423.7 437.3,425.6 438.6,428.2 439.9,429.5 441.2,428.8 442.1,434.0 443.1,439.1 444.2,438.5 445.1,448.1 446.0,444.9 447.0,444.3 448.0,451.3 448.9,455.2 450.2,452.6 451.5,453.3 452.5,447.5 453.4,444.3 454.4,444.9 455.3,450.7 456.6,452.6 457.9,453.9 458.8,456.5 459.8,459.7 460.9,462.3 462.1,463.5 463.0,465.9 463.9,462.3 465.2,461.6 466.5,459.7 467.8,458.4 469.1,456.5 469.9,455.8 470.8,461.0 472.0,460.3 473.3,462.0 474.6,462.3 475.3,463.6 476.3,468.1 477.6,464.2 479.1,464.8 480.4,463.6 481.7,463.6 483.0,467.4 484.3,471.3 485.3,473.2 486.2,469.3 487.1,466.8 487.9,472.6 488.8,477.1 490.1,476.4 490.7,479.0 491.6,473.2 492.6,477.7 493.5,476.4 494.6,470.0 495.5,468.7 496.5,476.4 497.8,478.3 499.1,479.0 500.3,476.4 501.6,477.4 502.5,480.0 503.6,477.7 504.8,479.6 506.1,479.0 507.4,479.6 508.7,482.2 510.0,485.4 510.9,486.1 511.9,479.0 512.8,475.8 513.8,477.7 514.9,475.4 516.2,477.7 517.4,479.6 518.3,483.5 519.2,486.7 520.3,488.0 521.2,484.8 522.2,486.4 523.1,486.7 523.9,477.7 525.2,477.1 525.8,468.7 526.7,465.5 527.7,469.3 529.0,471.9 530.3,475.1 531.6,474.5 532.5,470.6 533.4,470.0 534.4,473.8 535.4,477.1 536.3,471.9 537.2,467.4 538.5,468.7 539.6,472.6 540.8,470.6 542.1,471.9 543.7,470.6 544.9,472.6 546.0,476.4 547.0,473.8 548.3,470.2 548.8,479.0 549.8,482.8 550.9,485.4 551.8,489.3 553.0,485.4 554.3,484.1 555.6,485.4 556.9,484.1 558.2,488.0 559.5,485.4 560.8,483.5 561.7,481.6 562.7,485.4 563.7,486.7 565.0,485.4 566.6,486.3 567.9,488.2 568.9,489.5 570.2,487.6 571.5,485.0 572.4,483.1 573.3,481.4 574.0,485.0 575.3,488.6 576.2,488.2 577.5,490.8 578.8,489.5 580.1,492.1 581.0,494.6 582.0,491.4 583.3,492.4 584.8,494.0 585.8,489.5 587.1,490.8 588.2,494.0 589.1,488.8 589.7,486.5 591.0,488.2 592.3,490.8 593.6,492.7 595.1,494.6 596.4,496.6 597.7,499.1 599.0,501.4 600.2,503.6 601.5,505.3 602.8,504.9 604.5,506.2 605.4,501.1 606.4,499.1 607.4,495.5 608.3,501.4 609.6,496.6 610.5,493.3 611.3,486.9 612.2,488.2 613.1,493.3 614.1,492.1 615.4,492.1 616.7,494.6 618.0,496.3 619.3,498.1 620.6,499.8 621.8,501.4 623.1,500.4 624.2,497.8 624.7,493.7 626.0,494.6 627.2,495.3 628.5,494.6 629.3,495.5 630.2,488.2 631.1,484.3 631.9,483.7 632.8,487.8 634.0,487.6 635.3,489.5 637.0,490.1 637.9,494.0 639.2,495.3 640.9,496.3 642.1,495.3 643.0,493.3 643.9,492.1 645.0,495.3 646.0,492.1 646.5,484.3 647.5,480.9 648.2,479.6 648.6,469.6 649.7,465.4 650.1,471.2 651.2,475.1 652.1,473.1 653.4,474.4 654.0,477.0 654.6,485.3 655.5,477.6 656.6,475.7 657.6,478.9 658.5,475.1 659.8,473.4 661.1,477.6 662.4,478.9 663.6,475.4 664.9,478.9 665.8,481.5 666.9,477.6 667.9,481.5 668.8,487.3 669.7,491.1 670.7,488.6 672.0,488.3 673.0,493.1 673.9,490.5 674.8,495.0 675.8,496.9 677.1,499.5 678.2,501.4 679.4,503.3 680.7,504.2 682.0,503.3 682.9,499.5 684.2,498.6 685.1,500.1 686.1,504.6 687.2,506.6 688.4,504.6 689.7,509.1 691.0,507.2 692.3,508.5 693.6,507.8 694.5,510.2 695.8,508.5 697.1,510.4 698.3,509.1 699.6,511.1 700.9,512.3 701.8,512.7 702.8,508.5 703.9,505.3 704.8,506.6 705.7,500.8 706.7,501.4 707.6,494.3 708.2,502.7 709.3,500.8 710.6,497.6 711.8,496.9 712.9,495.0 713.8,498.2 714.7,493.7 715.4,489.6 716.3,494.3 717.2,498.2 718.3,500.8 719.6,503.3 720.8,505.0 721.9,500.8 722.8,502.7 723.4,501.4"/>
<polyline class="s" points="17.2,651.6 18.6,650.3 19.9,651.6 21.2,650.5 22.7,650.0 24.0,648.7 25.3,647.4 26.6,648.0 27.9,647.1 29.4,649.2 30.7,648.0 32.0,646.4 33.3,645.4 34.3,648.0 35.6,649.0 36.9,647.1 38.1,647.7 39.4,649.0 40.4,648.0 41.3,650.9 42.2,647.4 43.5,645.1 44.8,644.9 46.1,644.1 47.4,643.2 48.4,643.6 49.4,646.4 50.3,644.5 51.2,648.0 52.3,645.1 53.3,646.4 54.2,641.5 55.1,644.5 55.9,647.1 56.8,643.6 58.1,644.5 59.0,645.8 60.0,643.2 61.3,644.5 62.6,642.8 63.6,643.8 64.5,644.9 65.4,643.2 66.7,642.6 68.0,642.8 69.2,644.5 70.5,646.2 71.8,645.8 73.1,647.1 74.1,646.4 75.4,648.3 76.7,647.7 78.0,649.2 79.0,647.1 80.3,647.7 81.2,649.6 82.5,652.2 83.8,655.2 85.1,654.1 86.0,651.8 87.2,650.3 88.5,649.6 89.8,650.9 91.1,650.5 92.4,652.6 93.7,652.2 94.9,653.5 96.2,654.1 97.3,657.3 98.3,662.1 99.2,658.0 100.5,656.7 101.8,655.4 103.4,654.8 104.7,655.2 106.3,653.9 107.5,655.4 109.1,654.8 110.4,657.0 111.7,654.8 113.3,654.4 115.0,655.4 116.3,657.2 117.6,656.3 118.9,658.5 120.2,660.4 121.5,662.3 122.4,664.3 123.0,668.8 124.0,664.9 124.9,663.2 126.2,665.6 127.5,668.1 128.4,670.4 129.4,667.5 130.7,664.9 132.0,665.6 133.3,663.2 134.6,665.6 135.8,664.3 137.1,666.2 138.4,666.8 139.7,669.2 141.0,668.8 142.3,669.4 143.3,666.2 144.6,666.8 145.9,664.9 147.2,663.6 148.4,661.7 149.7,661.1 151.0,662.0 152.6,661.4 153.8,661.1 155.8,660.4 156.7,659.4 157.4,661.1 158.7,659.4 160.3,659.4 161.6,658.5 162.8,659.4 164.1,657.8 165.4,656.6 166.7,655.3 168.0,655.0 169.3,654.2 170.8,654.6 171.8,655.9 173.1,655.3 174.4,655.5 175.7,656.3 177.0,655.5 178.3,655.3 179.8,655.5 181.1,656.3 182.4,657.2 183.7,658.5 184.9,656.6 186.2,655.9 187.5,655.3 188.8,656.3 190.1,655.0 191.4,653.7 192.7,653.0 193.9,652.4 195.2,653.0 196.9,652.4 198.2,652.7 199.5,652.1 200.8,651.4 202.0,653.0 203.3,653.7 205.0,654.6 206.8,653.7 208.1,652.4 209.4,653.0 210.7,652.1 212.4,651.2 214.0,652.1 215.6,651.4 217.1,651.7 218.4,652.4 219.7,653.3 221.0,651.7 222.2,650.4 223.9,650.1 225.2,649.1 226.5,650.1 228.2,649.5 229.7,649.1 231.2,648.6 232.9,648.8 234.6,648.2 235.9,648.8 237.2,650.1 238.7,650.8 240.0,651.7 241.5,650.4 242.8,649.5 244.5,648.8 245.8,647.8 247.4,646.9 248.7,646.0 250.0,646.9 251.3,645.2 252.8,645.2 254.4,645.0 256.1,645.0 257.3,644.3 258.6,645.0 259.9,644.3 260.8,646.5 262.1,645.0 263.4,644.0 264.7,642.2 266.3,641.8 267.6,641.1 268.9,641.8 270.6,641.1 271.9,641.8 272.8,644.3 274.4,644.7 275.7,643.4 277.0,641.4 278.3,640.5 279.6,641.8 280.5,643.7 281.8,642.4 283.4,643.1 284.7,644.0 286.0,646.5 286.9,648.2 288.2,647.6 289.9,649.1 291.1,648.6 292.4,647.8 293.7,645.6 295.0,645.2 296.3,645.2 297.6,645.6 298.9,648.2 300.4,650.8 301.7,650.4 303.0,649.5 304.5,649.5 305.8,650.8 306.9,654.0 307.9,660.4 308.8,665.6 309.7,663.6 310.7,667.5 311.6,670.4 312.6,665.6 313.9,666.8 314.8,664.9 315.8,667.5 316.9,669.4 317.8,668.1 318.7,672.0 319.7,675.2 320.5,677.8 321.2,673.3 322.3,668.8 323.3,667.5 324.6,666.8 325.9,664.3 327.2,663.6 328.1,664.3 329.3,663.2 330.2,666.2 331.5,661.7 332.8,660.2 334.5,659.4 335.8,658.1 337.1,659.4 338.3,657.6 339.6,658.5 340.9,656.6 342.6,656.3 343.9,655.5 345.2,655.0 346.4,656.6 347.7,658.1 349.0,655.9 350.3,654.6 351.6,653.0 352.9,652.1 354.2,653.0 355.1,655.5 356.3,657.2 357.6,656.6 358.9,658.5 359.6,659.4 360.8,657.2 362.1,656.3 363.4,658.1 364.7,656.6 366.2,655.0 367.9,653.7 369.2,653.0 370.5,652.1 371.8,652.4 373.0,651.4 374.7,650.4 376.3,649.5 377.5,648.6 378.6,647.8 379.9,649.5 381.4,648.6 382.9,647.8 385.0,647.3 386.8,648.9 387.9,650.4 389.1,647.8 390.4,647.6 391.5,651.1 392.4,653.6 393.3,655.3 394.3,653.6 395.3,655.6 396.6,655.3 397.5,652.3 398.4,649.8 399.4,651.1 400.4,650.4 401.3,654.0 402.6,651.4 404.3,649.8 405.8,648.1 407.4,646.8 409.1,645.9 410.7,645.3 412.3,645.9 413.6,645.5 414.8,648.1 416.1,649.4 417.7,648.5 419.3,647.6 421.0,646.8 422.6,645.5 424.1,644.6 425.4,643.3 426.7,643.3 428.0,644.6 429.2,645.9 430.5,647.2 431.6,645.9 433.1,645.3 434.8,644.0 436.1,642.4 437.7,642.4 439.3,641.7 440.8,640.8 442.1,641.2 443.4,640.1 444.7,638.6 446.3,639.1 447.6,640.1 449.3,638.6 450.8,636.9 452.1,638.2 453.7,638.6 455.3,637.8 457.0,636.5 458.5,635.6 460.1,634.3 461.8,634.7 463.4,633.7 465.0,634.0 466.3,635.2 467.8,633.7 469.1,632.7 470.8,633.4 472.0,633.1 473.7,632.4 475.0,632.2 476.3,631.0 477.9,630.2 479.8,630.2 481.5,631.3 483.0,629.7 484.3,629.3 485.6,630.6 486.9,632.3 488.1,629.7 489.7,629.0 491.3,628.1 492.6,627.4 493.9,628.7 495.2,630.2 496.5,628.1 497.8,627.4 499.4,628.4 501.0,628.1 502.5,627.4 504.2,627.2 505.9,627.2 507.4,627.2 508.7,628.1 510.2,627.4 511.5,628.4 512.8,630.6 514.1,631.5 515.4,630.6 516.7,629.0 518.0,627.7 519.2,627.2 520.5,628.1 521.8,628.7 523.1,629.3 524.1,631.9 525.4,632.6 526.4,633.6 527.7,630.6 529.0,629.0 530.6,628.4 532.1,627.7 533.8,628.1 535.4,627.4 537.0,629.0 538.3,627.4 539.6,626.4 540.8,625.1 542.1,626.1 543.7,627.2 545.3,626.4 547.0,626.8 548.3,628.1 549.6,626.1 551.1,625.1 552.7,624.6 554.3,624.2 556.0,623.3 557.5,622.5 559.1,622.5 560.8,622.9 562.0,622.5 563.7,621.6 565.0,622.0 566.3,621.3 567.9,621.0 569.4,620.2 571.1,620.6 572.4,621.0 573.6,619.7 575.3,619.3 576.9,618.7 578.4,618.4 580.1,618.1 581.3,616.8 583.0,615.9 584.3,613.3 585.2,616.8 586.5,615.9 588.2,616.4 589.1,618.1 590.3,618.7 591.6,616.8 592.9,617.2 594.2,615.9 595.9,615.5 597.2,616.4 598.4,614.6 600.0,614.2 601.5,613.6 603.2,613.3 604.5,612.5 605.4,614.6 606.7,616.4 608.0,615.9 609.0,618.1 610.0,616.4 610.9,618.7 611.8,621.3 612.8,618.1 613.9,616.8 615.2,616.4 616.4,615.1 618.0,614.6 619.3,613.8 620.6,613.3 621.8,612.5 623.1,613.6 624.4,615.5 625.4,613.8 626.7,612.3 628.0,611.2 629.3,612.0 630.6,613.3 631.5,614.2 632.8,612.0 634.0,612.9 635.7,612.0 637.3,610.7 638.5,609.7 640.1,609.1 641.8,608.2 643.0,607.1 644.3,607.8 645.6,606.5 646.5,606.5 646.9,612.3 647.8,614.8 648.6,623.6 649.5,618.5 650.4,613.3 651.4,614.0 652.5,612.1 653.7,610.8 654.6,608.8 655.5,611.2 656.8,609.5 658.1,608.2 659.4,606.9 660.7,606.0 661.7,604.7 662.7,606.5 664.0,606.9 665.3,605.6 666.2,606.9 667.5,605.0 668.8,603.7 670.1,602.7 671.3,602.2 672.6,600.9 673.9,602.2 675.2,600.1 676.5,601.1 677.8,599.8 679.1,598.6 680.3,597.0 681.6,596.2 683.3,597.3 684.6,596.6 685.9,597.5 687.2,595.3 688.4,594.4 690.0,594.7 691.3,593.7 692.8,594.1 694.1,595.3 695.4,593.4 696.7,591.5 698.0,593.2 699.0,591.5 700.3,592.4 701.6,590.6 702.6,592.4 703.5,594.4 704.8,593.7 706.1,595.3 707.3,596.2 708.2,594.1 709.9,593.7 710.8,595.7 711.8,597.5 712.9,599.2 713.8,597.9 714.7,599.8 715.4,602.2 716.3,600.5 717.6,600.1 718.9,597.9 719.8,595.3 720.8,597.3 721.9,599.2 723.1,600.5"/>
<polygon fill="#0000ff" points="54.1,618 62.1,618 62.1,626.1 65.95,626.1 58.1,634 50.25,626.1 54.1,626.1"/>
<polygon fill="#0000ff" points="695.0,568 703.0,568 703.0,576.1 706.85,576.1 699,584 691.15,576.1 695.0,576.1"/>
<polygon fill="#0000ff" points="701,518 708.6,525.8 705.0,525.8 705.0,533.8 697.0,533.8 697.0,525.8 693.4,525.8"/>
<polygon points="754.8599999999999,65.65 758.6,60.300000000000004 798.8,60.300000000000004 798.8,71.0 758.6,71.0" fill="#fff" stroke="#000" stroke-width="1.2" stroke-linejoin="miter"/>
<text class="a" font-weight="bold" font-size="10.5" stroke="#000" stroke-width="0.45" x="797.6" y="69.5" text-anchor="end">1671.10</text>
<polygon points="754.8599999999999,500.8 758.6,495.45 781.4,495.45 781.4,506.15000000000003 758.6,506.15000000000003" fill="#fff" stroke="#000" stroke-width="1.2" stroke-linejoin="miter"/>
<text class="a" font-weight="bold" font-size="10.5" stroke="#000" stroke-width="0.45" x="779.4" y="504.65000000000003" text-anchor="end">0.43</text>
<polygon points="754.8599999999999,599.85 758.6,594.5 799.0,594.5 799.0,605.2 758.6,605.2" fill="#fff" stroke="#000" stroke-width="1.2" stroke-linejoin="miter"/>
<text class="a" font-weight="bold" font-size="10.5" stroke="#000" stroke-width="0.45" x="797.8" y="603.7" text-anchor="end">3855.93</text>
<text font-weight="bold" font-size="13.3" x="15.8" y="13.3" textLength="44" lengthAdjust="spacingAndGlyphs" style="font-family:'DejaVu Sans Condensed','DejaVu Sans',sans-serif">$GOLD</text>
<text class="a" font-size="10.67" x="64" y="13" textLength="161.5">Gold - Continuous Contract (EOD)</text>
<text class="v" font-size="9" x="230.5" y="12.5" textLength="21" stroke="#000" stroke-width="0.15">CME</text>
<text class="a" font-size="10.67" x="15.5" y="26" textLength="60.5">20-Sep-2022</text>
<text font-size="10" x="676" y="13" fill="#3c3c3c" stroke="#3c3c3c" stroke-width="0.25" textLength="80.5" lengthAdjust="spacingAndGlyphs" style="font-family:'DejaVu Sans Condensed','DejaVu Sans',sans-serif">StockCharts.com</text>
<text font-size="9.5" x="666.8" y="12.8" fill="#3c3c3c" stroke="#3c3c3c" stroke-width="0.3" style="font-family:'DejaVu Sans Condensed','DejaVu Sans',sans-serif">©</text>
<text class="a" font-size="12" x="265.4" y="26" font-weight="bold">Open</text>
<text class="a" font-size="10.67" x="298.3" y="26">1685.40</text>
<text class="a" font-size="12" x="342" y="26" font-weight="bold">High</text>
<text class="a" font-size="10.67" x="370.2" y="26">1688.80</text>
<text class="a" font-size="12" x="413.9" y="26" font-weight="bold">Low</text>
<text class="a" font-size="10.67" x="441.8" y="26">1667.60</text>
<text class="a" font-size="12" x="486.8" y="26" font-weight="bold">Close</text>
<text class="a" font-size="10.67" x="522.3" y="26">1671.10</text>
<text class="a" font-size="12" x="566.8" y="26" font-weight="bold">Volume</text>
<text class="a" font-size="10.67" x="612" y="26">28.2<tspan font-size="9.6">M</tspan></text>
<text class="a" font-size="12" x="648.1" y="26" font-weight="bold">Chg</text>
<text class="a" font-size="10.67" x="673.6" y="26">-12.40 (-0.74%)</text>
<polygon points="748.5,20.8 756.5,20.8 752.5,25.3" fill="#a00028"/>
<rect x="19.5" y="34.2" width="8.5" height="2.2" fill="#000"/>
<text class="v" font-size="9.4" x="31.5" y="39.2" textLength="142" lengthAdjust="spacing" stroke="#000" stroke-width="0.15">$GOLD (Weekly) 1671.10</text>
<rect x="19.5" y="386" width="8.5" height="2.2" fill="#000"/>
<text class="v" font-size="9.4" x="31.5" y="391" textLength="99" lengthAdjust="spacing" stroke="#000" stroke-width="0.15">$GOLD:$SPX 0.43</text>
<rect x="19.5" y="588.8" width="8.5" height="2.2" fill="#000"/>
<text class="v" font-size="9.4" x="31.5" y="593.8" textLength="77" lengthAdjust="spacing" stroke="#000" stroke-width="0.15">$SPX 3855.93</text>
<text class="a" font-size="20" x="21" y="61.5">Gold</text>
<text class="a" font-size="20" x="22.9" y="415.5">Gold vs. SPX</text>
<text class="a" font-size="20" x="117" y="605">SPX</text>
</svg>
</body></html>
